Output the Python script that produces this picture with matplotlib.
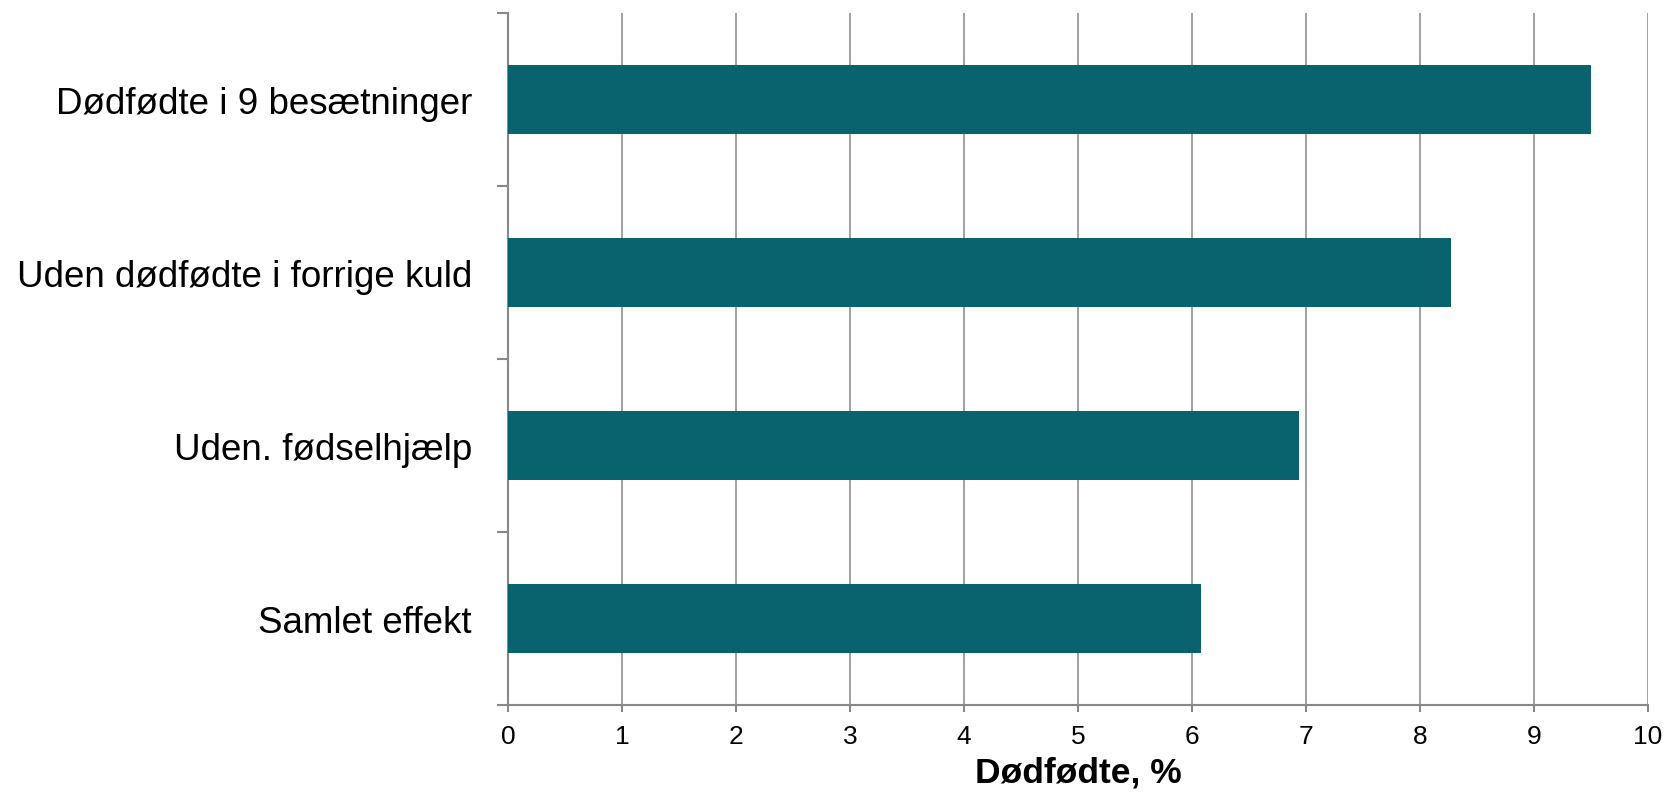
import matplotlib
matplotlib.use("Agg")
import matplotlib.pyplot as plt
import numpy as np

categories = ["Dødfødte i 9 besætninger", "Uden dødfødte i forrige kuld",
              "Uden. fødselhjælp", "Samlet effekt"]
values = [9.5, 8.27, 6.94, 6.08]
xticks = [0, 1, 2, 3, 4, 5, 6, 7, 8, 9, 10]
xlabel = "Dødfødte, %"

plt.rcParams['font.family'] = ['Liberation Sans', 'DejaVu Sans']

fig = plt.figure(figsize=(16.68, 8.03), dpi=100)
ax = fig.add_axes([508/1668, 1-706/803, 1140/1668, 692/803])

grey = "#888888"
y = np.arange(len(categories))
ax.barh(y, values, height=0.40, color="#09636F", zorder=3)

ax.set_xlim(0, 10)
ax.set_ylim(len(categories) - 0.5, -0.5)
ax.set_xticks(xticks)
ax.set_xticklabels([str(t) for t in xticks], fontsize=19)
ax.grid(axis='x', color=grey, linewidth=1.1, zorder=0)
ax.set_axisbelow(True)

ax.set_yticks(y)
ax.set_yticklabels(categories, fontsize=26.5)
ax.set_yticks(np.arange(len(categories) + 1) - 0.5, minor=True)
ax.tick_params(axis='y', which='major', length=0, pad=26)
ax.tick_params(axis='y', which='minor', length=8, width=1.5, color=grey)
ax.tick_params(axis='x', which='major', length=5, width=1.5, color=grey, pad=9)

for s in ['top', 'right']:
    ax.spines[s].set_visible(False)
for s in ['left', 'bottom']:
    ax.spines[s].set_color(grey)
    ax.spines[s].set_linewidth(1.5)

ax.set_xlabel(xlabel, fontsize=25.5, fontweight='bold', labelpad=5)

fig.savefig("out.png", dpi=100)
